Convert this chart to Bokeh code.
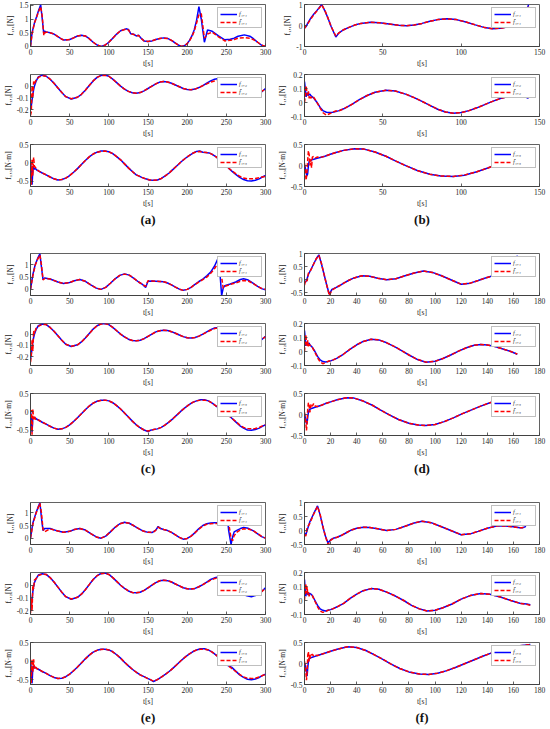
from bokeh.plotting import figure
from bokeh.layouts import column, row
from bokeh.models import FixedTicker, Range1d
from bokeh.embed import file_html
from bokeh.resources import INLINE
from bokeh.core.properties import value

# ---------------- data ----------------
PANEL_LABELS = ["(a)", "(b)", "(c)", "(d)", "(e)", "(f)"]
Y_LABELS = ["f\u2081,\u2081[N]", "f\u2081,\u2082[N]", "f\u2081,\u2083[N\u00b7m]"]
LEG_F = ["f\u2081,\u2081", "f\u2081,\u2082", "f\u2081,\u2083"]
LEG_FH = ["f\u0302\u2081,\u2081", "f\u0302\u2081,\u2082", "f\u0302\u2081,\u2083"]

X_TICKS_300 = [0, 50, 100, 150, 200, 250, 300]
X_TICKS_150 = [0, 50, 100, 150]
X_TICKS_180 = [0, 20, 40, 60, 80, 100, 120, 140, 160, 180]

# (a) sub 1
A1_T = [0, 2, 5, 8, 10, 13, 15, 17, 18, 20,
        25, 30, 35, 40, 43, 50, 55, 60, 65, 70,
        75, 80, 85, 90, 95, 100, 105, 110, 115, 122,
        125, 128, 132, 135, 138, 141, 145, 150, 155, 160,
        165, 170, 175, 180, 185, 190, 193, 197, 200, 203,
        206, 209, 212, 215, 218, 222, 226, 232, 240, 248,
        255, 260, 265, 273, 280, 285, 290, 295, 300]
A1_F = [0.0, 0.5, 0.85, 1.1, 1.28, 1.52, 1.0, 0.45, 0.56, 0.53,
        0.5, 0.45, 0.36, 0.26, 0.23, 0.25, 0.31, 0.38, 0.41, 0.38,
        0.28, 0.15, 0.05, 0.0, 0.04, 0.15, 0.3, 0.45, 0.57, 0.64,
        0.62, 0.46, 0.44, 0.38, 0.41, 0.3, 0.2, 0.18, 0.2, 0.25,
        0.29, 0.31, 0.29, 0.22, 0.12, 0.03, 0.0, 0.03, 0.1, 0.22,
        0.38, 0.6, 0.95, 1.45, 1.0, 0.15, 0.6, 0.55, 0.38, 0.24,
        0.26, 0.3, 0.37, 0.42, 0.37, 0.27, 0.15, 0.04, 0.0]
A1_FH = [0.0, 0.45, 0.85, 1.08, 1.25, 1.45, 1.1, 0.4, 0.48, 0.52,
         0.5, 0.45, 0.36, 0.26, 0.23, 0.25, 0.31, 0.38, 0.4, 0.38,
         0.28, 0.15, 0.05, 0.0, 0.04, 0.15, 0.3, 0.45, 0.57, 0.63,
         0.6, 0.46, 0.43, 0.38, 0.4, 0.3, 0.2, 0.18, 0.2, 0.25,
         0.29, 0.3, 0.29, 0.22, 0.12, 0.03, 0.0, 0.03, 0.1, 0.2,
         0.35, 0.55, 0.85, 1.15, 1.2, 0.3, 0.45, 0.52, 0.35, 0.2,
         0.22, 0.25, 0.3, 0.32, 0.3, 0.24, 0.15, 0.05, 0.0]

# shared time grid for the second subplot of (a), (c), (e)
T2_300 = [0, 1, 2, 3, 4, 5, 7, 10, 15, 20,
          25, 30, 35, 40, 45, 52, 60, 65, 70, 75,
          80, 85, 90, 95, 100, 105, 110, 115, 120, 125,
          130, 135, 140, 145, 150, 155, 160, 165, 170, 175,
          180, 185, 190, 195, 200, 205, 210, 215, 220, 225,
          230, 235, 240, 245, 250, 255, 260, 265, 270, 275,
          282, 290, 295, 300]
A2_F = [-0.2, -0.17, -0.12, -0.07, -0.03, 0.0, 0.04, 0.08, 0.095, 0.085,
        0.06, 0.025, -0.015, -0.055, -0.09, -0.11, -0.095, -0.07, -0.035, 0.005,
        0.045, 0.075, 0.092, 0.095, 0.085, 0.06, 0.03, 0.0, -0.025, -0.045,
        -0.057, -0.06, -0.055, -0.04, -0.02, 0.0, 0.02, 0.035, 0.04, 0.036,
        0.025, 0.01, -0.005, -0.02, -0.028, -0.03, -0.025, -0.012, 0.005, 0.025,
        0.045, 0.06, 0.065, 0.06, 0.045, 0.02, -0.01, -0.04, -0.065, -0.083,
        -0.09, -0.075, -0.05, -0.02]
A2_FH = [-0.25, -0.22, 0.0, -0.1, 0.04, 0.02, 0.05, 0.075, 0.09, 0.085,
         0.06, 0.025, -0.015, -0.055, -0.09, -0.108, -0.095, -0.07, -0.035, 0.005,
         0.045, 0.075, 0.09, 0.094, 0.085, 0.06, 0.03, 0.0, -0.025, -0.045,
         -0.057, -0.06, -0.055, -0.04, -0.02, 0.0, 0.02, 0.035, 0.04, 0.036,
         0.025, 0.01, -0.005, -0.02, -0.028, -0.03, -0.025, -0.012, 0.005, 0.02,
         0.035, 0.045, 0.05, 0.048, 0.035, 0.015, -0.01, -0.035, -0.055, -0.066,
         -0.07, -0.06, -0.045, -0.025]

A3_T = [0, 1, 2, 3, 4, 5, 6, 8, 10, 15,
        20, 25, 30, 35, 40, 45, 50, 55, 60, 65,
        70, 75, 80, 85, 90, 95, 100, 105, 110, 115,
        120, 125, 130, 135, 138, 142, 147, 152, 157, 162,
        167, 172, 177, 182, 187, 192, 197, 202, 207, 212,
        216, 220, 224, 228, 232, 237, 242, 247, 252, 257,
        262, 267, 272, 277, 282, 287, 292, 296, 300]
A3_F = [0.0, -0.15, -0.6, -0.2, -0.12, -0.18, -0.15, -0.2, -0.22, -0.28,
        -0.33, -0.39, -0.44, -0.47, -0.46, -0.42, -0.35, -0.26, -0.16, -0.05,
        0.06, 0.16, 0.24, 0.29, 0.32, 0.32, 0.3, 0.25, 0.17, 0.08,
        -0.03, -0.14, -0.24, -0.33, -0.36, -0.4, -0.44, -0.47, -0.48, -0.47,
        -0.43, -0.36, -0.28, -0.18, -0.08, 0.02, 0.11, 0.19, 0.26, 0.31,
        0.32, 0.29, 0.28, 0.27, 0.23, 0.16, 0.07, -0.03, -0.13, -0.23,
        -0.32, -0.4, -0.46, -0.49, -0.5, -0.48, -0.44, -0.39, -0.35]
A3_FH = [0.0, -0.6, 0.1, -0.35, 0.15, -0.1, -0.12, -0.18, -0.22, -0.28,
         -0.33, -0.39, -0.44, -0.47, -0.46, -0.42, -0.35, -0.26, -0.16, -0.05,
         0.06, 0.16, 0.24, 0.29, 0.31, 0.32, 0.3, 0.25, 0.17, 0.08,
         -0.03, -0.14, -0.24, -0.33, -0.36, -0.4, -0.44, -0.47, -0.48, -0.47,
         -0.43, -0.36, -0.28, -0.18, -0.08, 0.02, 0.11, 0.19, 0.26, 0.3,
         0.31, 0.29, 0.28, 0.27, 0.23, 0.16, 0.07, -0.03, -0.13, -0.22,
         -0.3, -0.37, -0.42, -0.44, -0.44, -0.43, -0.41, -0.39, -0.37]

# (b)
B1_T = [0, 1, 2, 4, 6, 8, 11, 13, 15, 17,
        20, 22, 25, 28, 32, 36, 42, 48, 54, 60,
        65, 70, 75, 80, 85, 91, 97, 103, 109, 115,
        120, 125, 130, 135, 138, 140, 142, 143]
B1_F = [-0.1, -0.05, 0.1, 0.35, 0.55, 0.72, 1.0, 0.7, 0.35, -0.05,
        -0.55, -0.35, -0.2, -0.1, 0.02, 0.1, 0.15, 0.13, 0.07, 0.01,
        -0.01, 0.02, 0.1, 0.2, 0.28, 0.32, 0.28, 0.17, 0.03, -0.1,
        -0.15, -0.13, -0.06, 0.02, 0.1, 0.3, 0.7, 1.0]
B1_FH = [-0.15, 0.0, 0.08, 0.3, 0.52, 0.7, 0.98, 0.72, 0.35, -0.05,
         -0.5, -0.35, -0.2, -0.1, 0.02, 0.1, 0.15, 0.13, 0.07, 0.01,
         -0.01, 0.02, 0.1, 0.2, 0.28, 0.31, 0.28, 0.17, 0.03, -0.1,
         -0.15, -0.13, -0.06, 0.02, 0.1, 0.28, 0.6, 0.9]

B2_T = [0, 0.5, 1, 1.5, 2, 2.5, 3, 3.5, 4, 5,
        6, 8, 10, 12, 14, 16, 18, 20, 22, 25,
        30, 35, 40, 45, 52, 58, 65, 70, 75, 80,
        85, 90, 95, 100, 105, 110, 115, 120, 125, 130,
        137, 140, 143]
B2_F = [0.15, 0.1, 0.04, 0.06, 0.07, 0.05, 0.055, 0.06, 0.05, 0.04,
        0.03, 0.0, -0.035, -0.06, -0.07, -0.072, -0.07, -0.065, -0.058, -0.045,
        -0.015, 0.02, 0.05, 0.073, 0.088, 0.082, 0.058, 0.035, 0.008, -0.02,
        -0.048, -0.068, -0.077, -0.072, -0.058, -0.038, -0.015, 0.008, 0.028, 0.042,
        0.05, 0.045, 0.03]
B2_FH = [0.0, 0.05, 0.12, 0.08, 0.05, 0.08, 0.03, 0.05, 0.03, 0.045,
         0.035, 0.0, -0.04, -0.075, -0.09, -0.08, -0.07, -0.06, -0.06, -0.045,
         -0.015, 0.02, 0.05, 0.073, 0.087, 0.082, 0.058, 0.035, 0.008, -0.02,
         -0.048, -0.068, -0.076, -0.072, -0.058, -0.038, -0.015, 0.008, 0.028, 0.042,
         0.048, 0.045, 0.035]

B3_T = [0, 0.5, 1, 1.5, 2, 2.5, 3, 3.5, 4, 4.5,
        5, 6, 7, 8, 10, 13, 16, 20, 25, 32,
        38, 45, 52, 58, 65, 72, 80, 87, 95, 102,
        110, 117, 124, 130, 136, 140, 143]
B3_F = [0.0, -0.05, -0.15, -0.25, -0.2, 0.0, 0.1, 0.12, 0.12, 0.13,
        0.14, 0.15, 0.16, 0.17, 0.19, 0.22, 0.26, 0.31, 0.36, 0.4,
        0.39, 0.32, 0.22, 0.11, -0.01, -0.12, -0.21, -0.25, -0.26, -0.23,
        -0.15, -0.06, 0.04, 0.12, 0.2, 0.24, 0.27]
B3_FH = [0.05, -0.1, -0.35, -0.2, 0.1, 0.35, 0.25, 0.0, 0.15, -0.05,
         0.2, 0.22, 0.18, 0.2, 0.19, 0.22, 0.26, 0.31, 0.36, 0.4,
         0.39, 0.32, 0.22, 0.11, -0.01, -0.12, -0.21, -0.25, -0.26, -0.23,
         -0.15, -0.06, 0.04, 0.12, 0.2, 0.24, 0.27]

# (c)
C1_T = [0, 3, 6, 9, 12, 14, 16, 18, 25, 35,
        42, 50, 56, 63, 70, 77, 84, 90, 96, 102,
        108, 114, 120, 126, 132, 138, 143, 147, 150, 155,
        160, 165, 170, 175, 180, 185, 190, 195, 200, 205,
        210, 215, 220, 225, 230, 235, 240, 242, 244, 246,
        248, 255, 262, 268, 272, 278, 284, 290, 295, 300]
C1_F = [0.0, 0.6, 1.0, 1.25, 1.45, 0.9, 0.4, 0.46, 0.42, 0.3,
        0.24, 0.28, 0.35, 0.4, 0.33, 0.18, 0.05, 0.0, 0.08, 0.25,
        0.43, 0.57, 0.63, 0.58, 0.45, 0.3, 0.2, 0.08, 0.33, 0.34,
        0.33, 0.32, 0.31, 0.26, 0.18, 0.09, 0.01, -0.04, 0.0, 0.08,
        0.2, 0.32, 0.42, 0.55, 0.7, 0.95, 1.3, 0.6, -0.25, 0.05,
        0.15, 0.22, 0.3, 0.4, 0.43, 0.38, 0.25, 0.12, 0.03, -0.02]
C1_FH = [0.0, 0.55, 0.98, 1.22, 1.4, 1.0, 0.38, 0.44, 0.42, 0.3,
         0.24, 0.28, 0.35, 0.4, 0.33, 0.18, 0.05, 0.0, 0.08, 0.25,
         0.43, 0.57, 0.62, 0.58, 0.45, 0.3, 0.2, 0.12, 0.35, 0.34,
         0.33, 0.32, 0.31, 0.26, 0.18, 0.09, 0.01, -0.04, 0.0, 0.08,
         0.2, 0.3, 0.4, 0.5, 0.65, 0.85, 1.1, 1.2, 0.5, 0.05,
         0.12, 0.2, 0.26, 0.33, 0.36, 0.34, 0.24, 0.12, 0.04, 0.0]

C2_F = [-0.22, -0.18, -0.13, -0.07, -0.03, 0.0, 0.04, 0.075, 0.09, 0.085,
        0.06, 0.025, -0.015, -0.055, -0.09, -0.11, -0.095, -0.07, -0.035, 0.005,
        0.045, 0.075, 0.092, 0.095, 0.085, 0.06, 0.03, 0.0, -0.025, -0.045,
        -0.057, -0.06, -0.055, -0.04, -0.02, 0.0, 0.02, 0.03, 0.035, 0.033,
        0.022, 0.008, -0.008, -0.022, -0.032, -0.035, -0.03, -0.018, 0.0, 0.02,
        0.04, 0.055, 0.06, 0.058, 0.045, 0.02, -0.01, -0.04, -0.065, -0.083,
        -0.09, -0.075, -0.05, -0.02]
C2_FH = [-0.25, -0.2, -0.05, -0.15, 0.03, 0.0, 0.05, 0.07, 0.088, 0.085,
         0.06, 0.025, -0.015, -0.055, -0.09, -0.108, -0.095, -0.07, -0.035, 0.005,
         0.045, 0.075, 0.09, 0.094, 0.085, 0.06, 0.03, 0.0, -0.025, -0.045,
         -0.057, -0.06, -0.055, -0.04, -0.02, 0.0, 0.02, 0.03, 0.035, 0.033,
         0.022, 0.008, -0.008, -0.022, -0.032, -0.035, -0.03, -0.018, 0.0, 0.018,
         0.035, 0.05, 0.055, 0.052, 0.04, 0.015, -0.015, -0.04, -0.055, -0.065,
         -0.07, -0.06, -0.045, -0.025]

# shared time grid for the third subplot of (c), (e)
T3_300 = [0, 1, 2, 3, 4, 5, 6, 8, 10, 15,
          20, 25, 30, 35, 40, 45, 50, 55, 60, 65,
          70, 75, 80, 85, 90, 95, 100, 105, 110, 115,
          120, 125, 130, 135, 140, 145, 150, 153, 157, 162,
          167, 172, 177, 182, 187, 192, 197, 202, 207, 212,
          217, 222, 227, 232, 237, 242, 247, 252, 257, 262,
          267, 272, 277, 282, 287, 292, 296, 300]
C3_F = [0.0, -0.1, -0.55, -0.15, -0.15, -0.18, -0.16, -0.2, -0.22, -0.28,
        -0.33, -0.39, -0.44, -0.47, -0.46, -0.42, -0.35, -0.26, -0.16, -0.05,
        0.06, 0.16, 0.24, 0.29, 0.32, 0.32, 0.3, 0.25, 0.17, 0.08,
        -0.03, -0.14, -0.25, -0.35, -0.43, -0.49, -0.53, -0.5, -0.48, -0.46,
        -0.42, -0.35, -0.27, -0.18, -0.08, 0.02, 0.11, 0.19, 0.26, 0.3,
        0.33, 0.33, 0.3, 0.24, 0.16, 0.08, 0.01, -0.07, -0.17, -0.27,
        -0.37, -0.44, -0.49, -0.5, -0.48, -0.44, -0.39, -0.35]
C3_FH = [0.0, 0.05, -0.62, 0.08, -0.2, -0.12, -0.2, -0.18, -0.22, -0.28,
         -0.33, -0.39, -0.44, -0.47, -0.46, -0.42, -0.35, -0.26, -0.16, -0.05,
         0.06, 0.16, 0.24, 0.29, 0.31, 0.32, 0.3, 0.25, 0.17, 0.08,
         -0.03, -0.14, -0.25, -0.35, -0.43, -0.49, -0.52, -0.5, -0.48, -0.46,
         -0.42, -0.35, -0.27, -0.18, -0.08, 0.02, 0.11, 0.19, 0.26, 0.3,
         0.32, 0.32, 0.3, 0.24, 0.16, 0.08, 0.0, -0.08, -0.17, -0.26,
         -0.35, -0.42, -0.45, -0.46, -0.45, -0.42, -0.38, -0.35]

# (d)
D1_T = [0, 1, 2, 3, 5, 7, 9, 11, 13, 15,
        17, 19, 21, 24, 27, 30, 34, 38, 44, 50,
        56, 63, 70, 77, 84, 91, 98, 105, 112, 120,
        127, 133, 138, 143, 148, 152, 155, 157, 158, 160,
        162, 163]
D1_F = [-0.1, -0.08, 0.05, 0.2, 0.4, 0.6, 0.8, 0.95, 0.6, 0.2,
        -0.2, -0.55, -0.37, -0.3, -0.22, -0.13, -0.02, 0.07, 0.15, 0.13,
        0.06, 0.0, 0.04, 0.15, 0.26, 0.33, 0.28, 0.15, 0.0, -0.17,
        -0.13, -0.03, 0.06, 0.13, 0.19, 0.21, 0.22, 0.25, 0.27, 0.4,
        0.7, 0.92]
D1_FH = [-0.2, 0.0, -0.05, 0.25, 0.38, 0.6, 0.8, 0.93, 0.62, 0.2,
         -0.2, -0.6, -0.4, -0.3, -0.22, -0.13, -0.02, 0.07, 0.15, 0.13,
         0.06, 0.0, 0.04, 0.15, 0.26, 0.33, 0.28, 0.15, 0.0, -0.17,
         -0.13, -0.03, 0.06, 0.13, 0.19, 0.21, 0.22, 0.24, 0.26, 0.35,
         0.55, 0.8]

D2_T = [0, 0.5, 1, 1.5, 2, 2.5, 3, 3.5, 4, 5,
        6, 8, 10, 12, 14, 16, 18, 20, 22, 25,
        30, 35, 40, 45, 51, 57, 63, 70, 75, 80,
        86, 93, 100, 106, 112, 118, 124, 130, 135, 140,
        146, 152, 158, 163]
D2_F = [0.15, 0.1, 0.04, 0.06, 0.07, 0.05, 0.055, 0.06, 0.05, 0.04,
        0.03, 0.0, -0.035, -0.06, -0.072, -0.075, -0.072, -0.067, -0.06, -0.047,
        -0.018, 0.017, 0.048, 0.072, 0.088, 0.083, 0.062, 0.03, 0.003, -0.025,
        -0.055, -0.077, -0.07, -0.05, -0.025, 0.003, 0.027, 0.045, 0.05, 0.047,
        0.035, 0.018, 0.0, -0.02]
D2_FH = [0.0, 0.06, 0.12, 0.07, 0.04, 0.08, 0.03, 0.05, 0.045, 0.04,
         0.03, -0.005, -0.045, -0.075, -0.087, -0.08, -0.07, -0.065, -0.06, -0.047,
         -0.018, 0.017, 0.048, 0.072, 0.087, 0.083, 0.062, 0.03, 0.003, -0.025,
         -0.055, -0.076, -0.07, -0.05, -0.025, 0.003, 0.027, 0.045, 0.05, 0.047,
         0.035, 0.018, 0.0, -0.018]

D3_T = [0, 0.5, 1, 1.5, 2, 2.5, 3, 3.5, 4, 4.5,
        5, 6, 7, 8, 10, 13, 16, 20, 25, 32,
        38, 45, 52, 58, 65, 72, 80, 87, 93, 100,
        107, 114, 121, 128, 135, 142, 150, 156, 160, 163]
D3_F = [0.0, -0.05, -0.12, -0.22, -0.2, -0.05, 0.05, 0.1, 0.12, 0.13,
        0.14, 0.15, 0.16, 0.17, 0.19, 0.22, 0.26, 0.3, 0.35, 0.4,
        0.39, 0.32, 0.22, 0.11, -0.01, -0.12, -0.21, -0.25, -0.26, -0.24,
        -0.17, -0.08, 0.02, 0.11, 0.2, 0.28, 0.35, 0.39, 0.41, 0.42]
D3_FH = [0.05, -0.05, -0.2, -0.38, -0.2, 0.15, 0.28, 0.25, 0.05, 0.1,
         0.25, 0.2, 0.26, 0.2, 0.19, 0.22, 0.26, 0.3, 0.35, 0.4,
         0.39, 0.32, 0.22, 0.11, -0.01, -0.12, -0.21, -0.25, -0.26, -0.24,
         -0.17, -0.08, 0.02, 0.11, 0.2, 0.28, 0.35, 0.39, 0.41, 0.42]

# (e)
E1_T = [0, 3, 7, 10, 12, 14, 16, 18, 25, 35,
        42, 50, 56, 63, 70, 77, 84, 90, 96, 102,
        108, 114, 120, 126, 132, 138, 144, 150, 155, 158,
        160, 163, 166, 170, 175, 180, 185, 190, 195, 200,
        205, 210, 215, 220, 225, 230, 235, 240, 244, 247,
        249, 251, 253, 256, 258, 260, 264, 268, 272, 278,
        284, 290, 295, 300]
E1_F = [0.0, 0.6, 1.0, 1.25, 1.4, 0.8, 0.3, 0.38, 0.38, 0.28,
        0.23, 0.27, 0.34, 0.38, 0.32, 0.18, 0.05, 0.0, 0.08, 0.25,
        0.43, 0.57, 0.63, 0.59, 0.49, 0.38, 0.28, 0.23, 0.22, 0.28,
        0.32, 0.46, 0.38, 0.34, 0.3, 0.23, 0.13, 0.03, -0.04, -0.01,
        0.08, 0.22, 0.38, 0.5, 0.57, 0.6, 0.61, 0.62, 0.7, 0.95,
        1.2, 0.9, 0.3, -0.25, 0.05, 0.25, 0.32, 0.38, 0.42, 0.39,
        0.3, 0.17, 0.06, 0.0]
E1_FH = [0.0, 0.55, 0.98, 1.22, 1.38, 1.0, 0.35, 0.25, 0.37, 0.28,
         0.23, 0.27, 0.34, 0.38, 0.32, 0.18, 0.05, 0.0, 0.08, 0.25,
         0.43, 0.57, 0.62, 0.59, 0.49, 0.38, 0.28, 0.23, 0.24, 0.26,
         0.32, 0.44, 0.38, 0.34, 0.3, 0.23, 0.13, 0.03, -0.04, -0.01,
         0.08, 0.22, 0.36, 0.48, 0.55, 0.57, 0.58, 0.58, 0.65, 0.8,
         1.0, 1.1, 0.6, 0.0, -0.1, 0.1, 0.25, 0.33, 0.37, 0.36,
         0.3, 0.18, 0.07, 0.0]

E2_F = [-0.2, -0.16, -0.11, -0.05, -0.01, 0.02, 0.05, 0.08, 0.09, 0.085,
        0.06, 0.025, -0.015, -0.055, -0.09, -0.11, -0.095, -0.07, -0.035, 0.005,
        0.045, 0.075, 0.092, 0.095, 0.085, 0.06, 0.03, 0.0, -0.025, -0.045,
        -0.057, -0.06, -0.055, -0.04, -0.02, 0.0, 0.02, 0.035, 0.04, 0.036,
        0.025, 0.01, -0.005, -0.02, -0.028, -0.03, -0.025, -0.012, 0.005, 0.025,
        0.045, 0.058, 0.065, 0.063, 0.05, 0.03, 0.0, -0.03, -0.06, -0.08,
        -0.09, -0.075, -0.05, -0.02]
E2_FH = [-0.22, -0.1, -0.2, 0.0, -0.03, 0.04, 0.05, 0.075, 0.088, 0.085,
         0.06, 0.025, -0.015, -0.055, -0.09, -0.108, -0.095, -0.07, -0.035, 0.005,
         0.045, 0.075, 0.09, 0.094, 0.085, 0.06, 0.03, 0.0, -0.025, -0.045,
         -0.057, -0.06, -0.055, -0.04, -0.02, 0.0, 0.02, 0.035, 0.04, 0.036,
         0.025, 0.01, -0.005, -0.02, -0.028, -0.03, -0.025, -0.012, 0.005, 0.022,
         0.04, 0.052, 0.058, 0.055, 0.042, 0.025, -0.01, -0.04, -0.062, -0.067,
         -0.068, -0.065, -0.05, -0.025]

E3_F = [0.0, -0.2, -0.6, -0.15, -0.15, -0.18, -0.17, -0.2, -0.22, -0.28,
        -0.33, -0.39, -0.44, -0.47, -0.46, -0.42, -0.35, -0.26, -0.16, -0.05,
        0.06, 0.16, 0.24, 0.29, 0.32, 0.32, 0.3, 0.25, 0.17, 0.08,
        -0.03, -0.13, -0.22, -0.3, -0.37, -0.42, -0.47, -0.5, -0.55, -0.5,
        -0.43, -0.36, -0.28, -0.19, -0.09, 0.01, 0.1, 0.18, 0.25, 0.3,
        0.33, 0.33, 0.3, 0.24, 0.16, 0.07, -0.03, -0.12, -0.17, -0.27,
        -0.37, -0.44, -0.49, -0.5, -0.48, -0.44, -0.39, -0.35]
E3_FH = [0.0, -0.6, 0.05, -0.3, 0.05, -0.2, -0.15, -0.2, -0.22, -0.28,
         -0.33, -0.39, -0.44, -0.47, -0.46, -0.42, -0.35, -0.26, -0.16, -0.05,
         0.06, 0.16, 0.24, 0.29, 0.31, 0.32, 0.3, 0.25, 0.17, 0.08,
         -0.03, -0.13, -0.22, -0.3, -0.37, -0.42, -0.47, -0.5, -0.54, -0.5,
         -0.43, -0.36, -0.28, -0.19, -0.09, 0.01, 0.1, 0.18, 0.25, 0.3,
         0.32, 0.32, 0.3, 0.24, 0.16, 0.07, -0.03, -0.12, -0.2, -0.28,
         -0.36, -0.43, -0.46, -0.47, -0.46, -0.43, -0.39, -0.36]

# (f)
F1_T = [0, 1, 2, 4, 7, 10, 12, 14, 16, 18,
        20, 22, 25, 28, 32, 36, 40, 45, 50, 56,
        63, 70, 77, 84, 90, 97, 104, 112, 120, 127,
        133, 140, 148, 154, 160, 165, 167, 169, 170, 171,
        172, 173]
F1_F = [-0.1, -0.15, 0.0, 0.3, 0.6, 0.88, 0.55, 0.15, -0.2, -0.45,
        -0.33, -0.28, -0.24, -0.18, -0.08, 0.02, 0.08, 0.12, 0.11, 0.06,
        0.0, 0.04, 0.15, 0.27, 0.33, 0.28, 0.15, 0.0, -0.15, -0.12,
        -0.03, 0.08, 0.17, 0.16, 0.13, 0.1, 0.1, 0.13, 0.25, 0.45,
        0.7, 0.9]
F1_FH = [-0.15, -0.2, 0.1, 0.25, 0.58, 0.86, 0.57, 0.15, -0.2, -0.5,
         -0.35, -0.28, -0.24, -0.18, -0.08, 0.02, 0.08, 0.12, 0.11, 0.06,
         0.0, 0.04, 0.15, 0.27, 0.33, 0.28, 0.15, 0.0, -0.15, -0.12,
         -0.03, 0.08, 0.17, 0.16, 0.13, 0.1, 0.1, 0.15, 0.3, 0.5,
         0.7, 0.85]

F2_T = [0, 0.5, 1, 1.5, 2, 2.5, 3, 3.5, 4, 5,
        6, 8, 10, 12, 14, 16, 18, 20, 22, 25,
        30, 35, 40, 45, 51, 57, 63, 70, 76, 82,
        88, 94, 100, 106, 113, 120, 127, 135, 142, 150,
        158, 165, 170, 173]
F2_F = [0.15, 0.08, 0.03, 0.06, 0.07, 0.045, 0.04, 0.05, 0.05, 0.045,
        0.035, 0.0, -0.035, -0.06, -0.07, -0.075, -0.07, -0.065, -0.058, -0.045,
        -0.02, 0.015, 0.045, 0.07, 0.085, 0.08, 0.06, 0.03, 0.0, -0.035,
        -0.06, -0.075, -0.07, -0.052, -0.025, 0.01, 0.035, 0.05, 0.045, 0.025,
        0.0, -0.02, -0.025, -0.03]
F2_FH = [0.0, 0.07, 0.12, 0.05, 0.1, 0.04, 0.06, 0.03, 0.045, 0.04,
         0.035, -0.005, -0.045, -0.075, -0.085, -0.08, -0.07, -0.065, -0.058, -0.045,
         -0.02, 0.015, 0.045, 0.07, 0.085, 0.08, 0.06, 0.03, 0.0, -0.035,
         -0.06, -0.075, -0.07, -0.052, -0.025, 0.01, 0.035, 0.05, 0.045, 0.025,
         0.0, -0.02, -0.027, -0.035]

F3_T = [0, 0.5, 1, 1.5, 2, 2.5, 3, 3.5, 4, 4.5,
        5, 6, 7, 8, 10, 13, 16, 20, 25, 33,
        40, 47, 54, 60, 66, 73, 80, 88, 95, 102,
        109, 116, 123, 130, 137, 145, 152, 158, 165, 170,
        173]
F3_F = [0.0, -0.03, -0.1, -0.2, -0.3, -0.1, 0.05, 0.1, 0.12, 0.13,
        0.14, 0.15, 0.16, 0.17, 0.19, 0.22, 0.25, 0.29, 0.34, 0.4,
        0.38, 0.31, 0.2, 0.1, -0.01, -0.12, -0.2, -0.25, -0.26, -0.23,
        -0.17, -0.09, 0.0, 0.09, 0.18, 0.27, 0.34, 0.38, 0.42, 0.44,
        0.45]
F3_FH = [0.05, -0.05, -0.2, -0.4, -0.2, 0.2, 0.28, 0.05, 0.22, 0.12,
         0.2, 0.22, 0.18, 0.2, 0.19, 0.22, 0.25, 0.29, 0.34, 0.4,
         0.38, 0.31, 0.2, 0.1, -0.01, -0.12, -0.2, -0.25, -0.26, -0.23,
         -0.17, -0.09, 0.0, 0.09, 0.18, 0.27, 0.34, 0.38, 0.42, 0.44,
         0.45]

# axis limits and ticks per subplot
A_YLIM = [(-0.005, 1.53), (-0.26, 0.1), (-0.65, 0.5)]
B_YLIM = [(-1.0, 1.0), (-0.1, 0.2), (-0.5, 0.5)]
C_YLIM = [(-0.25, 1.46), (-0.28, 0.095), (-0.64, 0.5)]
D_YLIM = [(-0.6, 1.0), (-0.1, 0.2), (-0.5, 0.5)]
E_YLIM = [(-0.25, 1.41), (-0.23, 0.1), (-0.63, 0.5)]
F_YLIM = [(-0.5, 1.0), (-0.1, 0.2), (-0.5, 0.5)]
A_YT = [[0, 0.5, 1, 1.5], [-0.2, -0.1, 0], [-0.5, 0, 0.5]]
B_YT = [[-1, 0, 1], [-0.1, 0, 0.1, 0.2], [-0.5, 0, 0.5]]
C_YT = [[0, 0.5, 1], [-0.2, -0.1, 0], [-0.5, 0, 0.5]]
D_YT = [[-0.5, 0, 0.5, 1], [-0.1, 0, 0.1, 0.2], [-0.5, 0, 0.5]]
E_YT = [[0, 0.5, 1], [-0.2, -0.1, 0], [-0.5, 0, 0.5]]
F_YT = [[-0.5, 0, 0.5, 1], [-0.1, 0, 0.1, 0.2], [-0.5, 0, 0.5]]

PANELS = [
    dict(xmax=300, xt=X_TICKS_300, ylim=A_YLIM, yt=A_YT,
         series=[(A1_T, A1_F, A1_FH), (T2_300, A2_F, A2_FH), (A3_T, A3_F, A3_FH)]),
    dict(xmax=150, xt=X_TICKS_150, ylim=B_YLIM, yt=B_YT,
         series=[(B1_T, B1_F, B1_FH), (B2_T, B2_F, B2_FH), (B3_T, B3_F, B3_FH)]),
    dict(xmax=300, xt=X_TICKS_300, ylim=C_YLIM, yt=C_YT,
         series=[(C1_T, C1_F, C1_FH), (T2_300, C2_F, C2_FH), (T3_300, C3_F, C3_FH)]),
    dict(xmax=180, xt=X_TICKS_180, ylim=D_YLIM, yt=D_YT,
         series=[(D1_T, D1_F, D1_FH), (D2_T, D2_F, D2_FH), (D3_T, D3_F, D3_FH)]),
    dict(xmax=300, xt=X_TICKS_300, ylim=E_YLIM, yt=E_YT,
         series=[(E1_T, E1_F, E1_FH), (T2_300, E2_F, E2_FH), (T3_300, E3_F, E3_FH)]),
    dict(xmax=180, xt=X_TICKS_180, ylim=F_YLIM, yt=F_YT,
         series=[(F1_T, F1_F, F1_FH), (F2_T, F2_F, F2_FH), (F3_T, F3_F, F3_FH)]),
]

# ---------------- styling / layout ----------------
COL_W = 274
SUB_H = 70
LAB_H = 39
LAB_H_LAST = 19
BL, BR, BT, BB = 27, 9, 4, 21
SERIF = "Liberation Serif"
AX_COL = "#3a3a3a"


def fmt(v):
    return ("%g" % v)


def style_axis(ax):
    ax.axis_line_color = AX_COL
    ax.axis_line_width = 0.8
    ax.major_tick_in = 3
    ax.major_tick_out = 0
    ax.major_tick_line_color = AX_COL
    ax.major_tick_line_width = 0.8
    ax.minor_tick_line_color = None
    ax.major_label_text_font = SERIF
    ax.major_label_text_font_size = "7.5px"
    ax.major_label_text_color = "#262626"
    ax.axis_label_text_font = SERIF
    ax.axis_label_text_font_size = "7.5px"
    ax.axis_label_text_font_style = "normal"
    ax.axis_label_text_color = "#262626"
    ax.major_label_standoff = 2
    ax.axis_label_standoff = 1


def make_sub(t, f, fh, xmax, xt, ylim, yt, ylab, l1, l2):
    p = figure(width=COL_W, height=SUB_H, x_range=Range1d(0, xmax),
               y_range=Range1d(ylim[0], ylim[1]), output_backend="svg",
               toolbar_location=None, min_border_left=BL, min_border_right=BR,
               min_border_top=BT, min_border_bottom=BB)
    p.line(t, f, line_color="#0000ff", line_width=1.5, legend_label=l1)
    p.line(t, fh, line_color="#ff0000", line_width=1.5, line_dash="4 2",
           legend_label=l2)
    p.grid.visible = False
    p.outline_line_color = AX_COL
    p.outline_line_width = 0.8
    p.xaxis.ticker = FixedTicker(ticks=xt)
    p.yaxis.ticker = FixedTicker(ticks=yt)
    p.yaxis.major_label_overrides = {v: fmt(v) for v in yt}
    p.xaxis.axis_label = "t[s]"
    p.yaxis.axis_label = ylab
    style_axis(p.xaxis[0])
    style_axis(p.yaxis[0])
    lg = p.legend[0]
    lg.location = "top_right"
    lg.label_text_font = SERIF
    lg.label_text_font_style = "italic"
    lg.label_text_font_size = "6.5px"
    lg.glyph_width = 17
    lg.glyph_height = 6
    lg.label_height = 6
    lg.label_standoff = 2
    lg.spacing = 1
    lg.padding = 2
    lg.margin = 3
    lg.border_line_color = "#808080"
    lg.border_line_width = 0.6
    lg.background_fill_alpha = 1.0
    return p


def make_label(txt, h):
    p = figure(width=COL_W, height=h, x_range=Range1d(0, 1),
               y_range=Range1d(0, h), output_backend="svg",
               toolbar_location=None, min_border_left=BL, min_border_right=BR,
               min_border_top=0, min_border_bottom=0)
    p.axis.visible = False
    p.grid.visible = False
    p.outline_line_color = None
    p.text(x=[0.5], y=[h - 9], text=[txt], text_align="center",
           text_baseline="middle", text_font=value(SERIF),
           text_font_style="bold", text_font_size="13px", text_color="#111111")
    return p


cols = []
for i, pan in enumerate(PANELS):
    kids = []
    for k, (t, f, fh) in enumerate(pan["series"]):
        kids.append(make_sub(t, f, fh, pan["xmax"], pan["xt"], pan["ylim"][k],
                             pan["yt"][k], Y_LABELS[k], LEG_F[k], LEG_FH[k]))
    kids.append(make_label(PANEL_LABELS[i], LAB_H_LAST if i >= 4 else LAB_H))
    cols.append(column(*kids))

layout = column(row(cols[0], cols[1]), row(cols[2], cols[3]), row(cols[4], cols[5]))

open("out.html", "w").write(file_html(layout, INLINE))
